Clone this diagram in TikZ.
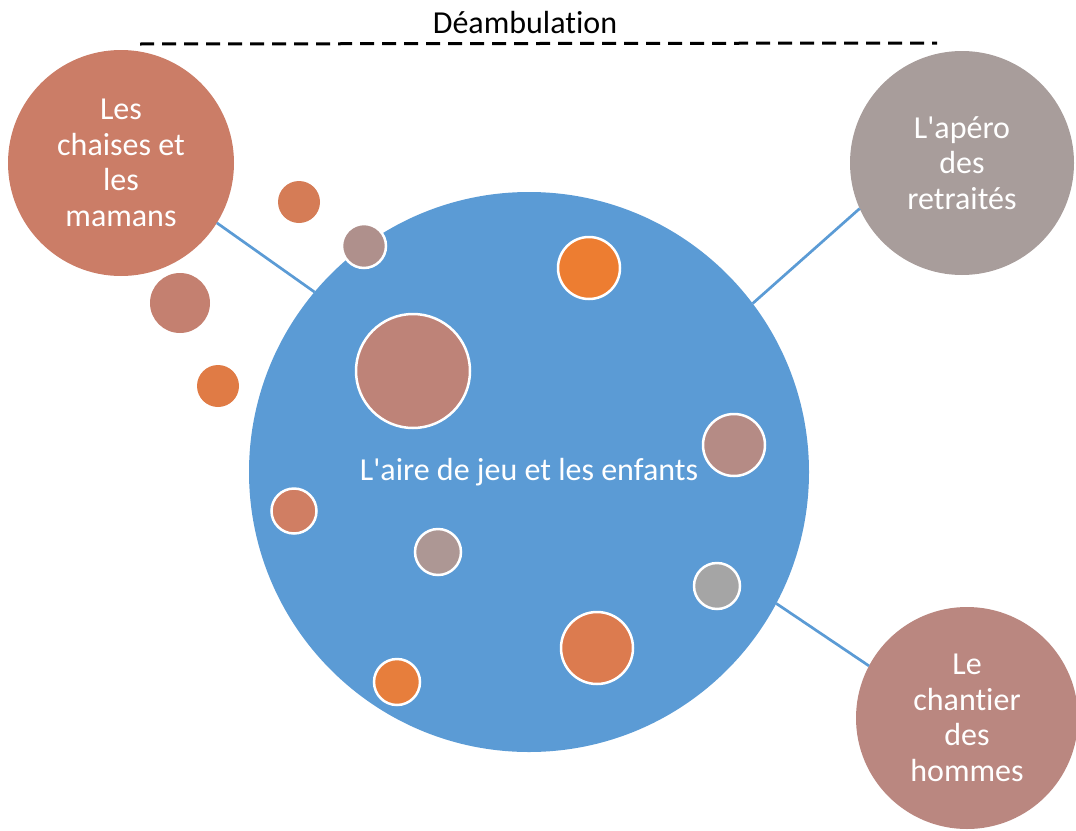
\documentclass[tikz,border=0pt]{standalone}
\usepackage{fontspec}
\setmainfont{Carlito}[Ligatures={TeXOff,NoCommon}]
\begin{document}
\begin{tikzpicture}[x=1pt,y=-1pt,
  every node/.style={inner sep=0pt, outer sep=0pt},
  bigc/.style={circle, minimum size=#1, text=white, align=center,
    font=\fontsize{32}{35.5}\selectfont},
  dot/.style={circle, minimum size=#1, draw=white, line width=2.5pt},
  outdot/.style={circle, minimum size=#1},
  link/.style={draw=mainblue, line width=2.7pt},
]
\definecolor{mainblue}{HTML}{5B9BD5}
\definecolor{cchaises}{HTML}{CB7D67}
\definecolor{capero}{HTML}{A89D9B}
\definecolor{cchantier}{HTML}{BA8780}
\definecolor{cA}{HTML}{D57C56}
\definecolor{cB}{HTML}{C48070}
\definecolor{cC}{HTML}{E07B45}
\definecolor{cD}{HTML}{AF908C}
\definecolor{cE}{HTML}{BE8378}
\definecolor{cF}{HTML}{ED7D31}
\definecolor{cG}{HTML}{B58B85}
\definecolor{cH}{HTML}{D07E63}
\definecolor{cI}{HTML}{AD9794}
\definecolor{cJ}{HTML}{A5A5A5}
\definecolor{cK}{HTML}{DC7B4F}
\definecolor{cL}{HTML}{E77E3C}

\useasboundingbox (0,0) rectangle (1076,830);

% title and dashed line
\node[font=\fontsize{32}{36}\selectfont] (title) at (525,23) {Déambulation};
\coordinate (dl) at (140,44);
\coordinate (dr) at (937,43);
\draw[line width=3pt, dash pattern=on 14pt off 8pt] (dl) -- (dr);

% main circle
\node[bigc=560pt, fill=mainblue] (main) at (529,472) {};

% satellite circles and connectors
\node[bigc=226pt, fill=cchaises] (chaises) at (121,163) {Les\\chaises et\\les\\mamans};
\node[bigc=224pt, fill=capero] (apero) at (962,163) {L'apéro\\des\\retraités};
\node[bigc=222pt, fill=cchantier] (chantier) at (967,718) {Le\\chantier\\des\\hommes};
\draw[link] (chaises.328) -- (main.140.7);
\draw[link] (apero.204) -- (main.37);
\draw[link] (main.332) -- (chantier.152);

% outside dots
\node[outdot=42pt, fill=cA] (o1) at (299,202) {};
\node[outdot=60pt, fill=cB] (o2) at (180,303) {};
\node[outdot=42pt, fill=cC] (o3) at (218,386) {};

% inner dots
\node[dot=44pt, fill=cD] (d1) at (364,246) {};
\node[dot=114pt, fill=cE] (d2) at (413,371) {};
\node[dot=62pt, fill=cF] (d3) at (589,268) {};
\node[dot=62pt, fill=cG] (d4) at (734,445) {};
\node[dot=45pt, fill=cH] (d5) at (294,511) {};
\node[dot=46pt, fill=cI] (d6) at (438,552) {};
\node[dot=46pt, fill=cJ] (d7) at (717,586) {};
\node[dot=72pt, fill=cK] (d8) at (597,648) {};
\node[dot=46pt, fill=cL] (d9) at (397,682) {};

% main label
\node[text=white, font=\fontsize{32}{36}\selectfont] (mainlabel) at (529,472) {L'aire de jeu et les enfants};
\end{tikzpicture}
\end{document}
